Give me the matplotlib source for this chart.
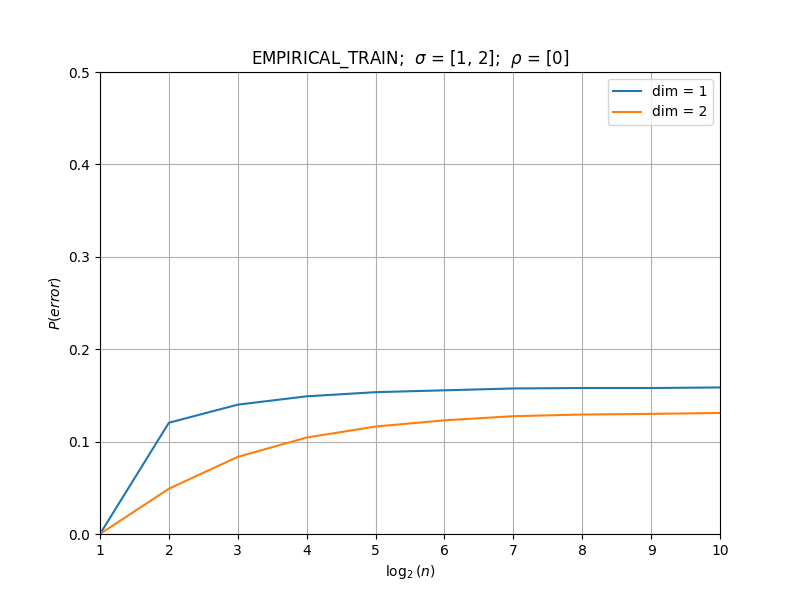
import numpy as np
import matplotlib.pyplot as plt

log2_n = [1, 2, 3, 4, 5, 6, 7, 8, 9, 10]
p_err_dim1 = [0.0, 0.1204, 0.1400, 0.1490, 0.1535, 0.1555, 0.1575, 0.1580, 0.1580, 0.1586]
p_err_dim2 = [0.0, 0.0490, 0.0835, 0.1044, 0.1163, 0.1230, 0.1275, 0.1293, 0.1300, 0.1310]

fig = plt.figure(figsize=(8, 6), dpi=100)
plt.plot(log2_n, p_err_dim1, label='dim = 1')
plt.plot(log2_n, p_err_dim2, label='dim = 2')
plt.xlim(1, 10)
plt.ylim(0, 0.5)
plt.xticks(np.arange(1, 11))
plt.grid(True)
plt.xlabel(r'$\log_2(n)$')
plt.ylabel(r'$P(error)$')
plt.title(r'EMPIRICAL_TRAIN;  $\sigma$ = [1, 2];  $\rho$ = [0]')
plt.legend(loc='upper right')

plt.savefig('out.png')
